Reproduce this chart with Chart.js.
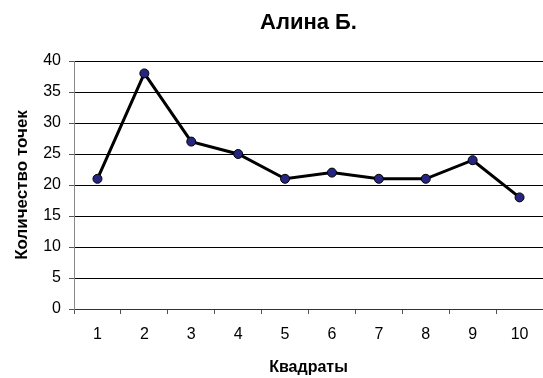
<!DOCTYPE html>
<html>
<head>
<meta charset="utf-8">
<script src="https://cdn.jsdelivr.net/npm/chart.js@4"></script>
<style>
  html, body { margin: 0; padding: 0; background: #fff; }
  #wrap { width: 543px; height: 378px; }
</style>
</head>
<body>
<div id="wrap"><canvas id="myChart" width="543" height="378"></canvas></div>
<script>
const squares = ['1', '2', '3', '4', '5', '6', '7', '8', '9', '10'];
const points = [21, 38, 27, 25, 21, 22, 21, 21, 24, 18];
const yTicks = [0, 5, 10, 15, 20, 25, 30, 35, 40];

Chart.defaults.font.family = '"Liberation Sans", Arial, sans-serif';
Chart.defaults.color = '#000';

const ctx = document.getElementById('myChart').getContext('2d');

const myChart = new Chart(ctx, {
    type: 'line',
    data: {
        labels: squares,
        datasets: [{
            label: 'Алина Б.',
            data: points,
            borderColor: '#000',
            borderWidth: 3,
            tension: 0,
            pointRadius: 4.5,
            pointBackgroundColor: '#262680',
            pointBorderColor: '#000',
            pointBorderWidth: 1
        }]
    },
    options: {
        responsive: false,
        maintainAspectRatio: false,
        animation: false,
        layout: {padding: 0, autoPadding: false},
        scales: {
            x: {
                offset: true,
                afterFit: s => { s.height = 69; s.paddingLeft = 0; s.paddingRight = 0; },
                grid: {
                    offset: true,
                    drawOnChartArea: false,
                    tickLength: 5,
                    tickColor: '#555'
                },
                border: {color: '#333', width: 1},
                ticks: {padding: 11, font: {size: 16}},
                title: {
                    display: true,
                    text: 'Квадраты',
                    font: {size: 16, weight: 'bold'},
                    padding: {top: 0, bottom: 1}
                }
            },
            y: {
                min: 0,
                max: 40,
                afterFit: s => { s.width = 74; s.paddingTop = 0; s.paddingBottom = 0; },
                afterBuildTicks: s => { s.ticks = yTicks.map(v => ({value: v})); },
                grid: {
                    color: '#000',
                    tickLength: 5,
                    tickColor: '#555'
                },
                border: {color: '#888', width: 1},
                ticks: {padding: 8, font: {size: 16}},
                title: {
                    display: true,
                    text: 'Количество точек',
                    font: {size: 17, weight: 'bold'},
                    padding: {top: 12, bottom: 0}
                }
            }
        },
        plugins: {
            legend: {display: false},
            tooltip: {enabled: false},
            title: {
                display: true,
                text: 'Алина Б.',
                fullSize: false,
                color: '#000',
                font: {size: 22, weight: 'bold'},
                padding: {top: 10, bottom: 24.6}
            }
        }
    }
});
</script>
</body>
</html>
